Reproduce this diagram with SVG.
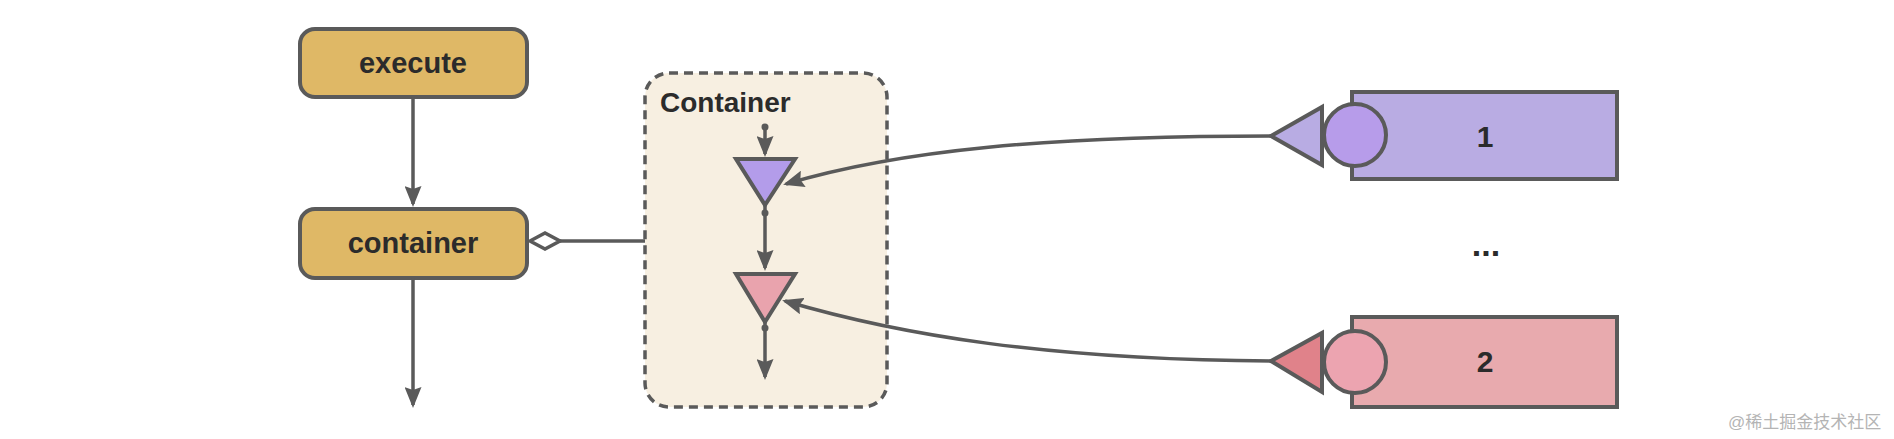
<svg xmlns="http://www.w3.org/2000/svg" width="1894" height="439" viewBox="0 0 1894 439">
<style>
.box{fill:#dfb866;stroke:#5a5a5a;stroke-width:4}
.lbl{font-family:"Liberation Sans",Arial,sans-serif;font-weight:bold;fill:#2b2b2b}
.ln{fill:none;stroke:#5a5a5a;stroke-width:3.5}
.sh{stroke:#5a5a5a;stroke-width:4}
.dot{fill:#5a5a5a}
</style>
<defs>
<marker id="arr" viewBox="0 0 21 17" refX="18" refY="8.5" markerWidth="21" markerHeight="17" orient="auto" markerUnits="userSpaceOnUse">
<path d="M0,0 L21,8.5 L0,17 L3,8.5 z" fill="#5a5a5a"/>
</marker>
</defs>
<rect width="1894" height="439" fill="#ffffff"/>

<g id="container-group">
<rect x="645" y="73" width="242" height="334" rx="24" fill="#f7efe1" stroke="#5a5a5a" stroke-width="3.5" stroke-dasharray="9 6"/>
<text class="lbl" x="660" y="112" font-size="28">Container</text>
</g>

<g id="execute">
<rect class="box" x="300" y="29" width="227" height="68" rx="15"/>
<text class="lbl" x="413" y="73" font-size="29" text-anchor="middle">execute</text>
</g>

<g id="container">
<rect class="box" x="300" y="209" width="227" height="69" rx="15"/>
<text class="lbl" x="413" y="253" font-size="29" text-anchor="middle">container</text>
</g>

<g id="tri1">
<polygon class="sh" points="736,159 795,159 765,205" fill="#b39cea"/>
</g>
<g id="tri2">
<polygon class="sh" points="736,274 795,274 765,322" fill="#e9a3ad"/>
</g>

<g id="source1">
<rect class="sh" x="1352" y="92" width="265" height="87" fill="#b9ace3"/>
<polygon class="sh" points="1271,136 1322,107 1322,165" fill="#b8ace3"/>
<circle class="sh" cx="1355" cy="135" r="31" fill="#b79cea"/>
<text class="lbl" x="1485" y="147" font-size="30" text-anchor="middle">1</text>
</g>

<g id="source2">
<rect class="sh" x="1352" y="317" width="265" height="90" fill="#e8aaae"/>
<polygon class="sh" points="1271,361 1322,333 1322,392" fill="#e0828a"/>
<circle class="sh" cx="1355" cy="362" r="31" fill="#eca4b0"/>
<text class="lbl" x="1485" y="372" font-size="30" text-anchor="middle">2</text>
</g>

<g id="ellipsis">
<text class="lbl" x="1486" y="256" font-size="34" text-anchor="middle">...</text>
</g>

<g id="connectors">
<line class="ln" x1="413" y1="97" x2="413" y2="204" marker-end="url(#arr)"/>
<line class="ln" x1="413" y1="278" x2="413" y2="405" marker-end="url(#arr)"/>
<line class="ln" x1="560" y1="241" x2="645" y2="241"/>
<polygon points="530,241 545,233 560,241 545,249" fill="#ffffff" stroke="#5a5a5a" stroke-width="3.5"/>
<circle class="dot" cx="765" cy="127" r="3.5"/>
<line class="ln" x1="765" y1="127" x2="765" y2="154" marker-end="url(#arr)"/>
<circle class="dot" cx="765" cy="213" r="3.5"/>
<line class="ln" x1="765" y1="205" x2="765" y2="268" marker-end="url(#arr)"/>
<circle class="dot" cx="765" cy="328" r="3.5"/>
<line class="ln" x1="765" y1="322" x2="765" y2="377" marker-end="url(#arr)"/>
<path class="ln" d="M1271,136 C1050,136 900,150 786,184" marker-end="url(#arr)"/>
<path class="ln" d="M1271,361 C1050,360 900,335 785,301" marker-end="url(#arr)"/>
</g>

<text x="1728" y="428" font-family="'Liberation Sans','Noto Sans CJK SC',sans-serif" font-size="17" fill="#b4b4b4">@稀土掘金技术社区</text>
</svg>
